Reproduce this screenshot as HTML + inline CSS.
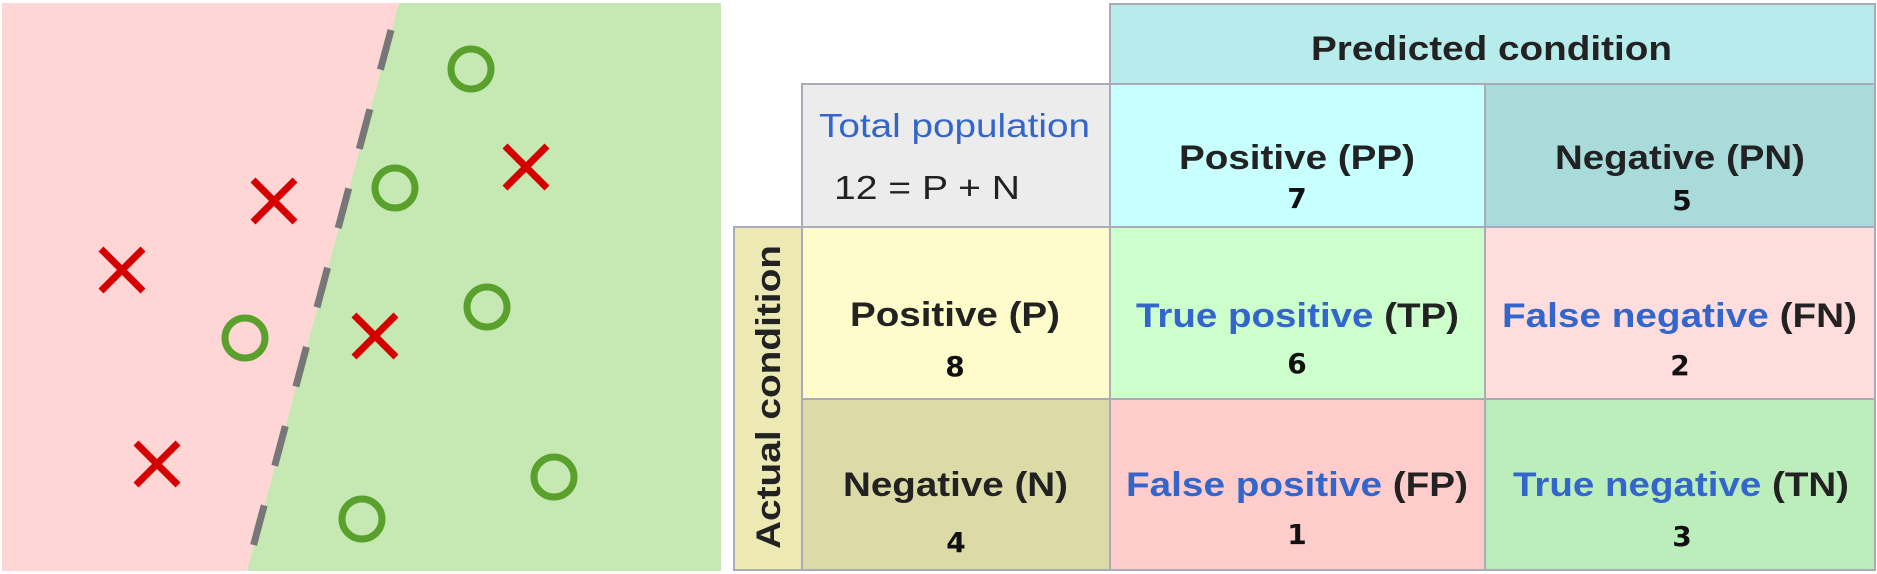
<!DOCTYPE html>
<html><head><meta charset="utf-8"><style>
html,body{margin:0;padding:0;background:#fff;width:1877px;height:574px;overflow:hidden}
svg{display:block}
text{font-family:"Liberation Sans",sans-serif}
.b{font-weight:bold;fill:#222;font-size:34px}
.n{font-family:"DejaVu Sans","Liberation Sans",sans-serif;font-weight:bold;fill:#111;font-size:28px}
.bl{fill:#3366cc}
</style></head><body>
<svg id="root" width="1877" height="574" viewBox="0 0 1877 574">
<g id="scatter">
  <rect x="2" y="3" width="719" height="568" fill="#c6e8b2"/>
  <polygon points="2,3 399,3 247,571 2,571" fill="#ffd6d6"/>
  <line x1="391" y1="30" x2="248" y2="566" stroke="#777" stroke-width="7" stroke-dasharray="41 41"/>
  <g id="marks"></g>
</g>
<g id="table">
  <rect x="1110" y="4" width="765" height="80" fill="#b8ecec" stroke="#aab" stroke-width="2"/>
  <rect x="802" y="84" width="308" height="143" fill="#ececec" stroke="#aab" stroke-width="2"/>
  <rect x="1110" y="84" width="375" height="143" fill="#c8ffff" stroke="#aab" stroke-width="2"/>
  <rect x="1485" y="84" width="390" height="143" fill="#a9dbdb" stroke="#aab" stroke-width="2"/>
  <rect x="734" y="227" width="68" height="343" fill="#ede9b5" stroke="#aab" stroke-width="2"/>
  <rect x="802" y="227" width="308" height="172" fill="#fefcca" stroke="#aab" stroke-width="2"/>
  <rect x="802" y="399" width="308" height="171" fill="#dcdaa7" stroke="#aab" stroke-width="2"/>
  <rect x="1110" y="227" width="375" height="172" fill="#ccffcc" stroke="#aab" stroke-width="2"/>
  <rect x="1485" y="227" width="390" height="172" fill="#ffdddd" stroke="#aab" stroke-width="2"/>
  <rect x="1110" y="399" width="375" height="171" fill="#ffcccc" stroke="#aab" stroke-width="2"/>
  <rect x="1485" y="399" width="390" height="171" fill="#bbeebb" stroke="#aab" stroke-width="2"/>

  <text class="b" x="1311" y="60" textLength="361" lengthAdjust="spacingAndGlyphs">Predicted condition</text>
  <text x="819" y="137" font-size="33" fill="#3366cc" textLength="271" lengthAdjust="spacingAndGlyphs">Total population</text>
  <text x="834" y="199" font-size="33" fill="#222" textLength="186" lengthAdjust="spacingAndGlyphs">12 = P + N</text>

  <text class="b" x="1179" y="169" textLength="236" lengthAdjust="spacingAndGlyphs">Positive (PP)</text>
  <text class="n" x="1297" y="208" text-anchor="middle">7</text>
  <text class="b" x="1555" y="169" textLength="250" lengthAdjust="spacingAndGlyphs">Negative (PN)</text>
  <text class="n" x="1682" y="210" text-anchor="middle">5</text>

  <text class="b" transform="translate(780,397) rotate(-90)" text-anchor="middle" textLength="304" lengthAdjust="spacingAndGlyphs">Actual condition</text>

  <text class="b" x="850" y="326" textLength="210" lengthAdjust="spacingAndGlyphs">Positive (P)</text>
  <text class="n" x="955" y="376" text-anchor="middle">8</text>
  <text class="b" x="843" y="496" textLength="225" lengthAdjust="spacingAndGlyphs">Negative (N)</text>
  <text class="n" x="956" y="552" text-anchor="middle">4</text>

  <text class="b" x="1136" y="327" textLength="323" lengthAdjust="spacingAndGlyphs"><tspan class="bl">True positive</tspan> (TP)</text>
  <text class="n" x="1297" y="373" text-anchor="middle">6</text>
  <text class="b" x="1502" y="327" textLength="355" lengthAdjust="spacingAndGlyphs"><tspan class="bl">False negative</tspan> (FN)</text>
  <text class="n" x="1680" y="375" text-anchor="middle">2</text>
  <text class="b" x="1126" y="496" textLength="342" lengthAdjust="spacingAndGlyphs"><tspan class="bl">False positive</tspan> (FP)</text>
  <text class="n" x="1297" y="544" text-anchor="middle">1</text>
  <text class="b" x="1513" y="496" textLength="336" lengthAdjust="spacingAndGlyphs"><tspan class="bl">True negative</tspan> (TN)</text>
  <text class="n" x="1682" y="546" text-anchor="middle">3</text>
</g>
</svg>
<script>
const circleX = [471, 395, 245, 487, 554, 362];
const circleY = [69, 188, 338, 307, 477, 519];
const crossX = [274, 122, 157, 375, 526];
const crossY = [201, 270, 464, 336, 167];
const xScale = v => 2 + v;
const yScale = v => 0 + v;
const NS = 'http://www.w3.org/2000/svg';
const g = document.getElementById('marks');
circleX.forEach((v, i) => {
  const c = document.createElementNS(NS, 'circle');
  c.setAttribute('cx', xScale(v) - 2);
  c.setAttribute('cy', yScale(circleY[i]));
  c.setAttribute('r', 20);
  c.setAttribute('fill', 'none');
  c.setAttribute('stroke', '#5aa02c');
  c.setAttribute('stroke-width', 7);
  
  
  g.appendChild(c);
});
crossX.forEach((v, i) => {
  const cx = xScale(v) - 2, cy = yScale(crossY[i]), s = 21;
  const p = document.createElementNS(NS, 'path');
  p.setAttribute('d', `M${cx-s},${cy-s}L${cx+s},${cy+s}M${cx+s},${cy-s}L${cx-s},${cy+s}`);
  p.setAttribute('stroke', '#d40000');
  p.setAttribute('stroke-width', 7);
  
  
  g.appendChild(p);
});
</script>
</body></html>
